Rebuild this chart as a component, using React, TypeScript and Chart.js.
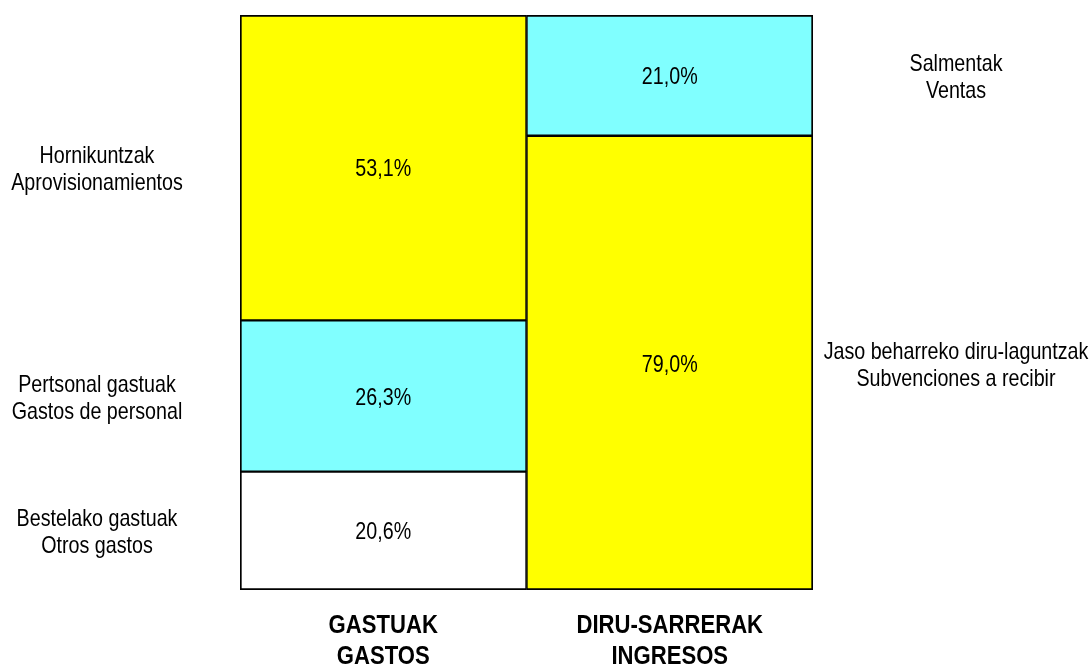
import React, { useEffect, useRef } from "react";
import { Chart, registerables } from "chart.js";

Chart.register(...registerables);

const categories: string[][] = [["GASTUAK", "GASTOS"], ["DIRU-SARRERAK", "INGRESOS"]];

const otrosGastos: (number | null)[] = [20.6, null];
const gastosPersonal: (number | null)[] = [26.3, null];
const aprovisionamientos: (number | null)[] = [53.1, null];
const subvenciones: (number | null)[] = [null, 79.0];
const ventas: (number | null)[] = [null, 21.0];

const segmentLabels: string[][] = [
  ["Bestelako gastuak", "Otros gastos"],
  ["Pertsonal gastuak", "Gastos de personal"],
  ["Hornikuntzak", "Aprovisionamientos"],
  ["Jaso beharreko diru-laguntzak", "Subvenciones a recibir"],
  ["Salmentak", "Ventas"],
];

const WHITE = "#FFFFFF";
const CYAN = "#80FFFF";
const YELLOW = "#FFFF00";
const FONT = '"Liberation Sans", Arial, sans-serif';

function narrowText(ctx: CanvasRenderingContext2D, text: string, x: number, y: number, sx: number) {
  ctx.save();
  ctx.translate(x, y);
  ctx.scale(sx, 1);
  ctx.fillText(text, 0, 0);
  ctx.restore();
}

const labelsPlugin = {
  id: "labelsPlugin",
  afterDatasetsDraw(chart: any) {
    const ctx = chart.ctx as CanvasRenderingContext2D;
    const area = chart.chartArea;
    ctx.save();
    ctx.fillStyle = "#000";
    ctx.textAlign = "center";
    ctx.textBaseline = "middle";
    chart.data.datasets.forEach((ds: any, di: number) => {
      const meta = chart.getDatasetMeta(di);
      ds.data.forEach((v: number | null, i: number) => {
        if (v === null || v === undefined) return;
        const el: any = meta.data[i];
        const cy = (el.y + el.base) / 2;
        ctx.font = `24px ${FONT}`;
        narrowText(ctx, v.toFixed(1).replace(".", ",") + "%", el.x, cy + 2, 0.82);
        const lines: string[] = ds.sideLabel;
        const sx = i === 0 ? area.left - 143 : area.right + 143;
        const lh = 27;
        lines.forEach((ln, k) => {
          narrowText(ctx, ln, sx, cy + 2.5 + (k - (lines.length - 1) / 2) * lh, 0.82);
        });
      });
    });
    const xs = chart.scales.x;
    ctx.font = `bold 26px ${FONT}`;
    categories.forEach((lines, i) => {
      const x = xs.getPixelForValue(i);
      lines.forEach((ln, k) => {
        narrowText(ctx, ln, x, area.bottom + 35.5 + k * 31.5, 0.85);
      });
    });
    ctx.restore();
  },
};

export default function App() {
  const ref = useRef<HTMLCanvasElement | null>(null);
  useEffect(() => {
    if (!ref.current) return;
    const mk = (data: (number | null)[], color: string, side: string[], bw: any) => ({
      data,
      backgroundColor: color,
      borderColor: "#000",
      borderWidth: bw,
      borderSkipped: false as any,
      barPercentage: 1,
      categoryPercentage: 1,
      sideLabel: side,
    });
    const chart = new Chart(ref.current, {
      type: "bar",
      data: {
        labels: categories.map((c) => c.join(" ")),
        datasets: [
          mk(otrosGastos, WHITE, segmentLabels[0], { left: 2, right: 1.5, top: 1.5, bottom: 2 }),
          mk(gastosPersonal, CYAN, segmentLabels[1], { left: 2, right: 1.5, top: 1.5, bottom: 1.5 }),
          mk(aprovisionamientos, YELLOW, segmentLabels[2], { left: 2, right: 1.5, top: 2, bottom: 1.5 }),
          mk(subvenciones, YELLOW, segmentLabels[3], { left: 1.5, right: 2, top: 1.5, bottom: 2 }),
          mk(ventas, CYAN, segmentLabels[4], { left: 1.5, right: 2, top: 2, bottom: 1.5 }),
        ] as any,
      },
      options: {
        animation: false,
        responsive: false,
        maintainAspectRatio: false,
        layout: { padding: { left: 240, right: 279, top: 15, bottom: 77 } },
        plugins: { legend: { display: false }, tooltip: { enabled: false } },
        scales: {
          x: { stacked: true, display: false },
          y: { stacked: true, display: false, min: 0, max: 100 },
        },
      },
      plugins: [labelsPlugin],
    });
    return () => chart.destroy();
  }, []);
  return (
    <div style={{ position: "fixed", left: 0, top: 0, width: 1092, height: 667, background: "#fff" }}>
      <canvas ref={ref} width={1092} height={667} style={{ width: 1092, height: 667, display: "block" }} />
    </div>
  );
}
